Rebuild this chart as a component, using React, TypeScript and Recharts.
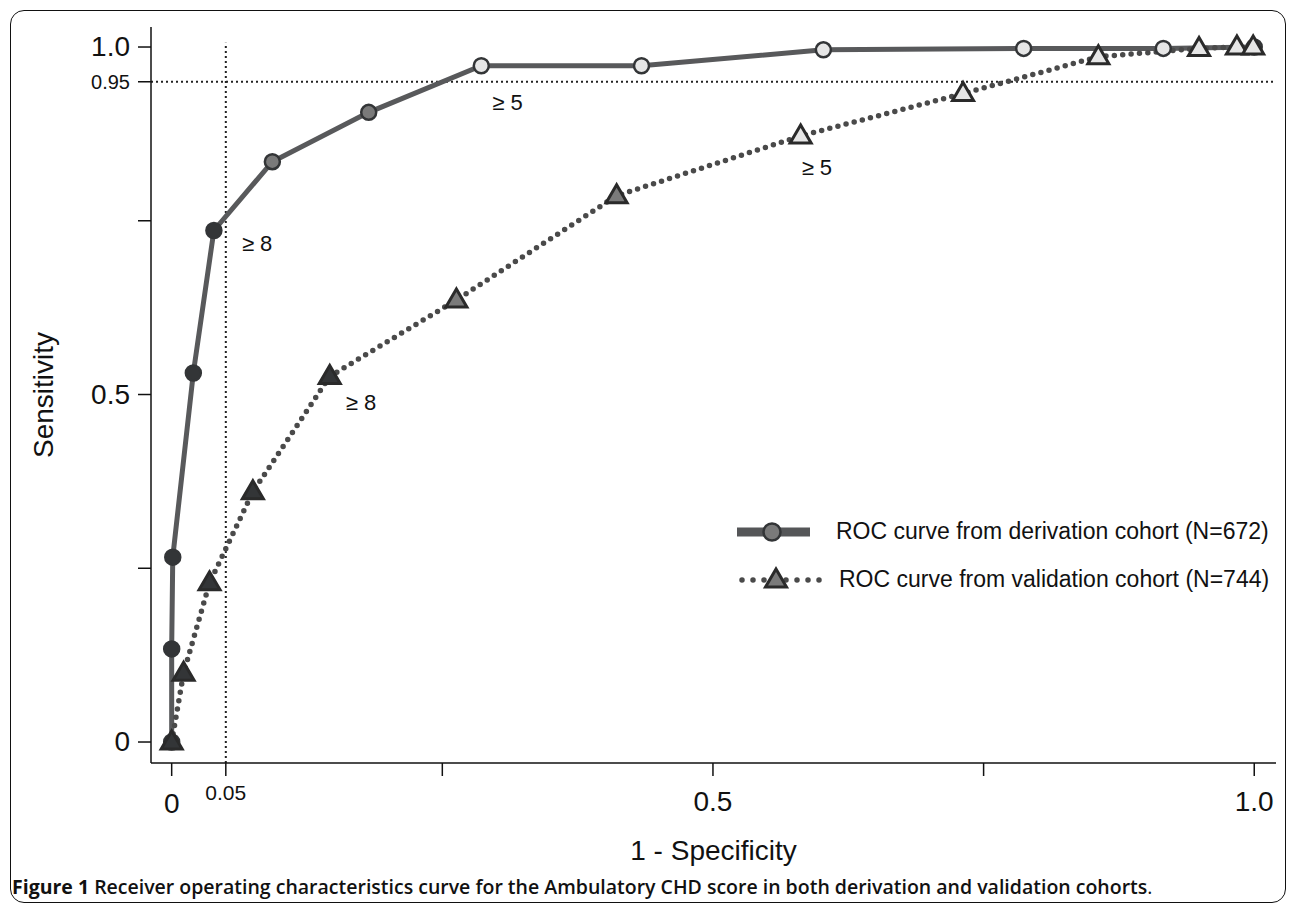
import { LineChart, Line, XAxis, YAxis, ReferenceLine, ReferenceDot } from "recharts";

// 1 - specificity / sensitivity
const derivationFpr = [0, 0, 0.001, 0.02, 0.039, 0.093, 0.182, 0.286, 0.434, 0.602, 0.787, 0.916, 1.0];
const derivationSens = [0, 0.134, 0.266, 0.531, 0.736, 0.835, 0.906, 0.973, 0.973, 0.996, 0.998, 0.998, 1.0];
const validationFpr = [0, 0.011, 0.035, 0.075, 0.146, 0.263, 0.411, 0.581, 0.731, 0.856, 0.949, 0.984, 0.999];
const validationSens = [0, 0.099, 0.229, 0.36, 0.526, 0.636, 0.786, 0.872, 0.933, 0.986, 0.998, 1.0, 1.0];

const seriesNames = [
  "ROC curve from derivation cohort (N=672)",
  "ROC curve from validation cohort (N=744)",
];

const xTicks = [0, 0.05, 0.25, 0.5, 0.75, 1];
const xTickLabels = ["0", "0.05", "", "0.5", "", "1.0"];
const yTicks = [0, 0.25, 0.5, 0.75, 0.95, 1];
const yTickLabels = ["0", "", "0.5", "", "0.95", "1.0"];

const cutoffLabel8 = "\u2265 8";
const cutoffLabel5 = "\u2265 5";

const derivation = derivationFpr.map((x, i) => ({ x, y: derivationSens[i] }));
const validation = validationFpr.map((x, i) => ({ x, y: validationSens[i] }));

const FONT = "'Liberation Sans', Arial, Helvetica, sans-serif";
const DARK = "#333537";
const MID = "#7a7a7a";
const LIGHT = "#e6e6e6";

// marker shade changes with the score cut-off
function shade(index: number, lastDark: number, lastMid: number, darkLast: boolean, count: number) {
  if (index <= lastDark) return DARK;
  if (index <= lastMid) return MID;
  if (darkLast && index === count - 1) return "#555";
  return LIGHT;
}

function Triangle({ cx, cy, fill }: { cx: number; cy: number; fill: string }) {
  const pts = `${cx},${cy - 11} ${cx - 10.5},${cy + 7} ${cx + 10.5},${cy + 7}`;
  return <polygon points={pts} fill={fill} stroke="#2a2a2a" strokeWidth={3} strokeLinejoin="miter" />;
}

function XTick(props: any) {
  const { x, y, payload } = props;
  const i = xTicks.indexOf(payload.value);
  const label = xTickLabels[i];
  if (!label) return null;
  const small = label === "0.05";
  return (
    <text x={x} y={y} dy={small ? 22 : label === "0" ? 35 : 33} textAnchor="middle" fontFamily={FONT} fontSize={small ? 21 : 28} fill="#111">
      {label}
    </text>
  );
}

function YTick(props: any) {
  const { x, y, payload } = props;
  const i = yTicks.indexOf(payload.value);
  const label = yTickLabels[i];
  if (!label) return null;
  const small = label === "0.95";
  return (
    <text x={x - 6} y={y} dy={small ? 7 : 9} textAnchor="end" fontFamily={FONT} fontSize={small ? 20 : 28} fill="#111">
      {label}
    </text>
  );
}

function CutoffLabel(props: any) {
  const { viewBox, text, dx, dy } = props;
  return (
    <text x={viewBox.x + dx} y={viewBox.y + dy} fontFamily={FONT} fontSize={22} fill="#111">
      {text}
    </text>
  );
}

function LegendBox() {
  return (
    <div style={{ position: "absolute", left: 730, top: 508, width: 560, height: 95, fontFamily: FONT, fontSize: 23, color: "#111" }}>
      <svg width={110} height={95} style={{ position: "absolute", left: 0, top: 0 }}>
        <line x1={7} y1={24} x2={80} y2={24} stroke="#555658" strokeWidth={9} />
        <circle cx={42} cy={24} r={8.5} fill={MID} stroke={DARK} strokeWidth={2.5} />
        <line x1={12} y1={72} x2={100} y2={72} stroke="#4a4a4a" strokeWidth={5.5} strokeDasharray="0 11" strokeLinecap="round" />
        <Triangle cx={46} cy={72} fill={MID} />
      </svg>
      <div style={{ position: "absolute", left: 106, top: 10, whiteSpace: "nowrap" }}>{seriesNames[0]}</div>
      <div style={{ position: "absolute", left: 109, top: 58, whiteSpace: "nowrap" }}>{seriesNames[1]}</div>
    </div>
  );
}

export default function App() {
  return (
    <div style={{ position: "absolute", left: 0, top: 0, width: 1290, height: 915, background: "#fff" }}>
      <div
        style={{
          position: "absolute",
          left: 10,
          top: 10,
          width: 1276,
          height: 893,
          border: "1.5px solid #111",
          borderRadius: 14,
          boxSizing: "border-box",
        }}
      />
      <div style={{ position: "absolute", left: 0, top: 0 }}>
        <LineChart width={1290} height={915} margin={{ top: 27, right: 14, bottom: 52, left: 51 }}>
          <XAxis
            type="number"
            dataKey="x"
            domain={[-0.0191, 1.0201]}
            allowDataOverflow
            ticks={xTicks}
            interval={0}
            tickSize={13}
            height={100}
            tick={<XTick />}
            axisLine={{ stroke: "#111", strokeWidth: 1.5 }}
            tickLine={{ stroke: "#111", strokeWidth: 1.5 }}
            label={{ value: "1 - Specificity", position: "insideBottom", offset: 3, fontFamily: FONT, fontSize: 28, fill: "#111" }}
          />
          <YAxis
            type="number"
            dataKey="y"
            domain={[-0.0302, 1.0288]}
            allowDataOverflow
            ticks={yTicks}
            interval={0}
            tickSize={13}
            width={100}
            tick={<YTick />}
            axisLine={{ stroke: "#111", strokeWidth: 1.5 }}
            tickLine={{ stroke: "#111", strokeWidth: 1.5 }}
            label={{ value: "Sensitivity", angle: -90, position: "insideLeft", offset: -8, fontFamily: FONT, fontSize: 28, fill: "#111", style: { textAnchor: "middle" } }}
          />
          <ReferenceLine y={0.95} stroke="#222" strokeWidth={2} strokeDasharray="2 3" />
          <ReferenceLine
            segment={[
              { x: 0.05, y: -0.0302 },
              { x: 0.05, y: 1.006 },
            ]}
            stroke="#222"
            strokeWidth={2}
            strokeDasharray="2 3"
          />
          <Line
            data={derivation}
            dataKey="y"
            name={seriesNames[0]}
            type="linear"
            stroke="#58595b"
            strokeWidth={5}
            dot={(p: any) => (
              <circle
                key={`d-${p.index}`}
                cx={p.cx}
                cy={p.cy}
                r={7.5}
                fill={shade(p.index, 4, 6, true, derivation.length)}
                stroke={DARK}
                strokeWidth={2.5}
              />
            )}
            activeDot={false}
            isAnimationActive={false}
          />
          <Line
            data={validation}
            dataKey="y"
            name={seriesNames[1]}
            type="linear"
            stroke="#4a4a4a"
            strokeWidth={5.5}
            strokeDasharray="0 8.4"
            strokeLinecap="round"
            dot={(p: any) => <Triangle key={`v-${p.index}`} cx={p.cx} cy={p.cy} fill={shade(p.index, 4, 6, false, validation.length)} />}
            activeDot={false}
            isAnimationActive={false}
          />
          <ReferenceDot x={derivationFpr[4]} y={derivationSens[4]} r={0} fill="none" stroke="none" label={<CutoffLabel text={cutoffLabel8} dx={28} dy={21} />} />
          <ReferenceDot x={derivationFpr[7]} y={derivationSens[7]} r={0} fill="none" stroke="none" label={<CutoffLabel text={cutoffLabel5} dx={11} dy={44} />} />
          <ReferenceDot x={validationFpr[4]} y={validationSens[4]} r={0} fill="none" stroke="none" label={<CutoffLabel text={cutoffLabel8} dx={16} dy={34} />} />
          <ReferenceDot x={validationFpr[7]} y={validationSens[7]} r={0} fill="none" stroke="none" label={<CutoffLabel text={cutoffLabel5} dx={1} dy={39} />} />
        </LineChart>
      </div>
      <LegendBox />
      <div
        style={{
          position: "absolute",
          left: 12,
          top: 873,
          whiteSpace: "nowrap",
          fontFamily: "'Open Sans', sans-serif",
          fontSize: 19.5,
          fontWeight: 600,
          color: "#111",
        }}
      >
        <span style={{ fontWeight: 700 }}>Figure 1</span> Receiver operating characteristics curve for the Ambulatory CHD score in both
        derivation and validation cohorts<span style={{ fontWeight: 400 }}>.</span>
      </div>
    </div>
  );
}
